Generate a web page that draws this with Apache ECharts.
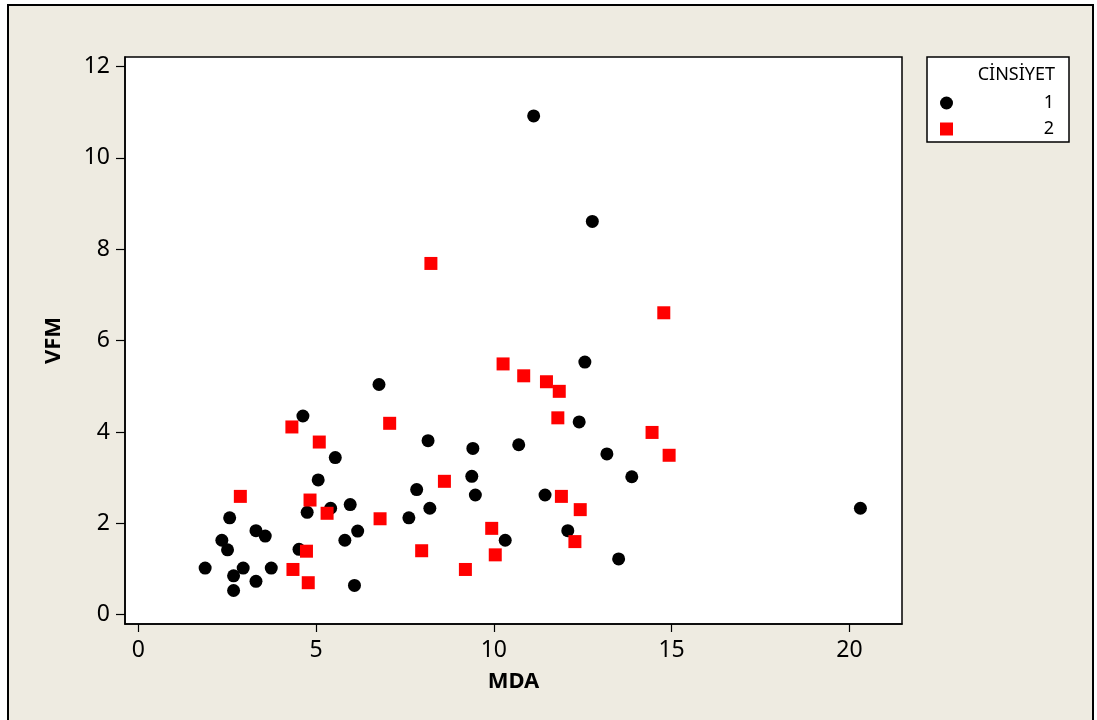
<!DOCTYPE html>
<html>
<head>
<meta charset="utf-8">
<script src="https://cdn.jsdelivr.net/npm/echarts@6/dist/echarts.min.js"></script>
<style>
html,body{margin:0;padding:0;background:#ffffff;}
#chart{width:1097px;height:720px;}
</style>
</head>
<body>
<div id="chart"></div>
<script>
// ---- data ----
const seriesNames = ['1', '2'];
const legendTitle = 'CİNSİYET';
const xAxisTitle = 'MDA';
const yAxisTitle = 'VFM';
const xTicks = [0, 5, 10, 15, 20];
const yTicks = [0, 2, 4, 6, 8, 10, 12];

// CİNSİYET = 1 (black circles)
const mda1 = [1.88, 2.35, 2.51, 2.57, 2.68, 2.68, 2.95, 3.31, 3.31, 3.57, 3.74, 4.52, 4.63, 4.75, 5.06,
              5.41, 5.54, 5.81, 5.96, 6.08, 6.17, 6.77, 7.61, 7.83, 8.15, 8.20, 9.38, 9.41, 9.48, 10.32,
              10.70, 11.12, 11.44, 12.08, 12.40, 12.56, 12.77, 13.18, 13.51, 13.88, 20.31];
const vfm1 = [1.02, 1.63, 1.42, 2.12, 0.85, 0.53, 1.02, 1.84, 0.73, 1.72, 1.02, 1.43, 4.35, 2.24, 2.95,
              2.33, 3.44, 1.63, 2.41, 0.64, 1.83, 5.04, 2.12, 2.74, 3.81, 2.33, 3.03, 3.64, 2.62, 1.63,
              3.72, 10.92, 2.62, 1.84, 4.22, 5.53, 8.61, 3.52, 1.22, 3.02, 2.33];

// CİNSİYET = 2 (red squares)
const mda2 = [2.87, 4.32, 4.35, 4.73, 4.78, 4.83, 5.09, 5.31, 6.80, 7.07, 7.97, 8.23, 8.61, 9.20,
              9.94, 10.04, 10.26, 10.84, 11.48, 11.80, 11.84, 11.90, 12.28, 12.43, 14.45, 14.78, 14.93];
const vfm2 = [2.59, 4.11, 0.99, 1.39, 0.70, 2.51, 3.78, 2.22, 2.10, 4.19, 1.40, 7.69, 2.92, 0.99,
              1.89, 1.31, 5.49, 5.23, 5.10, 4.31, 4.89, 2.59, 1.60, 2.30, 3.99, 6.61, 3.49];

const pairs = (xs, ys) => xs.map((x, i) => [x, ys[i]]);

const FONT = "'Noto Sans', 'DejaVu Sans', sans-serif";
const chart = echarts.init(document.getElementById('chart'), null, {renderer: 'canvas'});

chart.setOption({
  animation: false,
  backgroundColor: '#ffffff',
  textStyle: {fontFamily: FONT},
  graphic: [
    {type: 'rect', z: -10, silent: true,
     shape: {x: 8, y: 5, width: 1085, height: 730},
     style: {fill: '#EEEBE1', stroke: '#000000', lineWidth: 2}},
    {type: 'rect', z: 5, silent: true,
     shape: {x: 927, y: 57, width: 142, height: 85},
     style: {fill: '#ffffff', stroke: '#000000', lineWidth: 1.5}},
    {type: 'text', z: 6, silent: true,
     x: 1055, y: 75,
     style: {text: legendTitle, fill: '#000', font: "18px " + FONT, textAlign: 'right', textVerticalAlign: 'middle'}}
  ],
  grid: {
    left: 125, top: 57, width: 777, height: 567,
    show: true, backgroundColor: '#ffffff', borderColor: '#000000', borderWidth: 1.5
  },
  legend: {
    orient: 'vertical',
    left: 940, top: 94,
    padding: 0,
    itemWidth: 13, itemHeight: 13, itemGap: 8,
    z: 10,
    selectedMode: false,
    data: seriesNames,
    formatter: n => '{r|' + n + '}',
    textStyle: {
      color: '#000',
      rich: {r: {width: 96, align: 'right', fontSize: 18, fontFamily: FONT, color: '#000'}}
    }
  },
  xAxis: {
    type: 'value',
    min: -0.374, max: 21.48,
    name: xAxisTitle, nameLocation: 'middle', nameGap: 47,
    nameTextStyle: {fontSize: 22, fontWeight: 'bold', color: '#000', fontFamily: FONT},
    splitLine: {show: false},
    axisLine: {show: true, onZero: false, lineStyle: {color: '#000', width: 1.5}},
    axisTick: {show: true, length: 8, customValues: xTicks, lineStyle: {color: '#000', width: 1.2}},
    axisLabel: {customValues: xTicks, margin: 15, fontSize: 23, color: '#000', fontFamily: FONT}
  },
  yAxis: {
    type: 'value',
    min: -0.204, max: 12.21,
    name: yAxisTitle, nameLocation: 'middle', nameGap: 60, nameRotate: 90,
    nameTextStyle: {fontSize: 22, fontWeight: 'bold', color: '#000', fontFamily: FONT},
    splitLine: {show: false},
    axisLine: {show: true, onZero: false, lineStyle: {color: '#000', width: 1.5}},
    axisTick: {show: true, length: 9, customValues: yTicks, lineStyle: {color: '#000', width: 1.2}},
    axisLabel: {customValues: yTicks, margin: 15, fontSize: 23, color: '#000', fontFamily: FONT}
  },
  series: [
    {name: seriesNames[0], type: 'scatter', symbol: 'circle', symbolSize: 13,
     itemStyle: {color: '#000000', opacity: 1}, data: pairs(mda1, vfm1)},
    {name: seriesNames[1], type: 'scatter', symbol: 'rect', symbolSize: 13,
     itemStyle: {color: '#FF0000', opacity: 1}, data: pairs(mda2, vfm2)}
  ]
});
</script>
</body>
</html>
